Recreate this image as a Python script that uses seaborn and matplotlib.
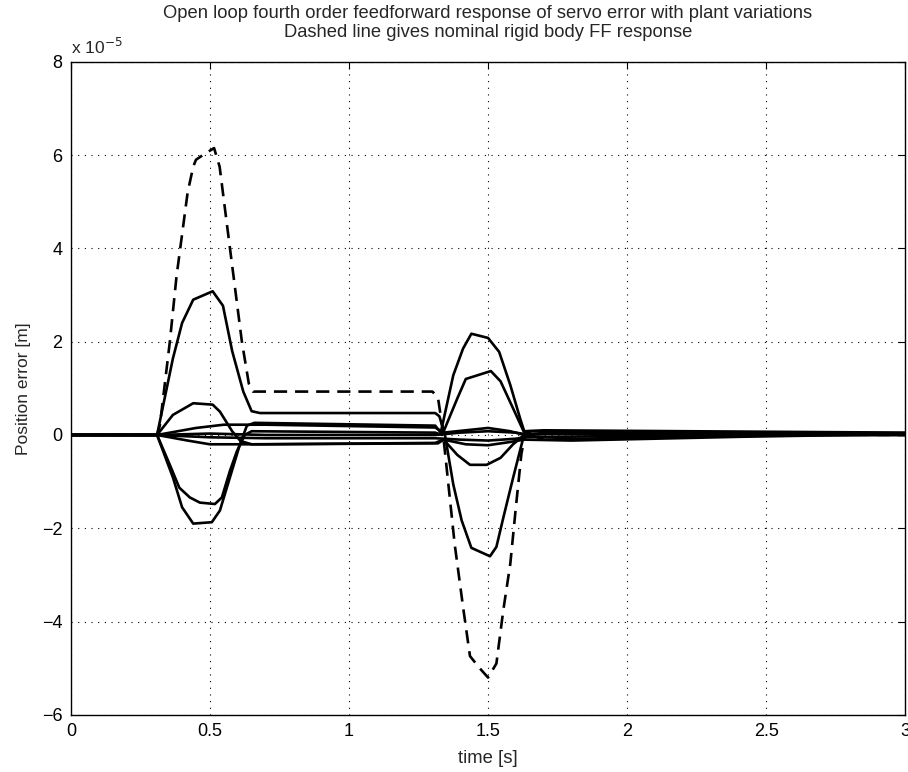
import matplotlib
matplotlib.use("Agg")
import matplotlib.pyplot as plt
import seaborn as sns

# Time / error points (error in units of 1e-5 m)
t_nominal = [0, 0.31, 0.32, 0.356, 0.38, 0.40, 0.42, 0.44, 0.45, 0.475, 0.515, 0.535, 0.57, 0.615,
             0.64, 0.655, 1.30, 1.32, 1.335, 1.35, 1.38, 1.41, 1.435, 1.47, 1.50, 1.53, 1.555, 1.58,
             1.60, 1.62, 1.635, 2.0, 3.0]
e_nominal = [0, 0, 0.2, 2.0, 3.4, 4.3, 5.2, 5.75, 5.9, 6.0, 6.15, 5.75, 4.1, 2.0,
             1.1, 0.93, 0.93, 0.8, 0.2, -0.64, -2.34, -3.68, -4.74, -5.0, -5.2, -4.9, -3.75, -2.76,
             -1.55, -0.4, 0.05, 0.03, 0.0]

t_a = [0, 0.31, 0.367, 0.40, 0.44, 0.51, 0.547, 0.58, 0.62, 0.65, 0.68, 1.31, 1.325, 1.345,
       1.375, 1.405, 1.44, 1.507, 1.53, 1.555, 1.59, 1.625, 1.65, 2.0, 3.0]
e_a = [0, 0, 1.64, 2.4, 2.9, 3.08, 2.77, 1.8, 0.93, 0.51, 0.47, 0.47, 0.4, 0.0,
       -1.06, -1.83, -2.42, -2.6, -2.4, -1.77, -0.92, -0.1, 0.08, 0.06, 0.04]

t_b = [0, 0.31, 0.367, 0.44, 0.51, 0.536, 0.58, 0.61, 0.65, 1.32, 1.34, 1.39, 1.435, 1.495,
       1.545, 1.59, 1.63, 1.7, 3.0]
e_b = [0, 0, 0.43, 0.68, 0.65, 0.5, 0.08, -0.13, -0.2, -0.18, -0.1, -0.43, -0.64, -0.64,
       -0.49, -0.2, 0.0, 0.04, 0.02]

t_c = [0, 0.31, 0.367, 0.40, 0.44, 0.507, 0.536, 0.572, 0.608, 0.633, 0.66, 1.31, 1.33, 1.375,
       1.41, 1.44, 1.50, 1.54, 1.58, 1.615, 1.63, 1.7, 3.0]
e_c = [0, 0, -0.91, -1.55, -1.9, -1.87, -1.62, -0.91, -0.2, 0.2, 0.26, 0.2, 0.05, 1.28,
       1.85, 2.17, 2.08, 1.78, 1.07, 0.36, 0.08, 0.1, 0.05]

t_d = [0, 0.31, 0.356, 0.39, 0.428, 0.464, 0.518, 0.543, 0.572, 0.597, 0.625, 0.65, 1.31, 1.335,
       1.39, 1.42, 1.51, 1.545, 1.59, 1.63, 1.7, 2.4, 3.0]
e_d = [0, 0, -0.64, -1.13, -1.34, -1.45, -1.48, -1.34, -0.77, -0.35, 0.0, 0.08, 0.05, 0.0,
       0.79, 1.2, 1.37, 1.15, 0.57, 0.05, -0.1, 0.0, 0.02]

t_e = [0, 0.31, 0.45, 0.55, 0.7, 1.31, 1.34, 1.42, 1.5, 1.58, 1.63, 1.8, 3.0]
e_e = [0, 0, 0.15, 0.22, 0.22, 0.16, 0.05, 0.1, 0.15, 0.08, 0.0, 0.05, 0.03]

t_f = [0, 0.31, 0.42, 0.5, 0.7, 1.31, 1.34, 1.42, 1.5, 1.58, 1.63, 1.8, 2.4, 3.0]
e_f = [0, 0, -0.12, -0.2, -0.2, -0.17, -0.1, -0.2, -0.22, -0.15, -0.1, -0.12, -0.04, 0.02]

t_g = [0, 0.31, 0.5, 0.7, 1.31, 1.4, 1.5, 1.6, 1.63, 3.0]
e_g = [0, 0, 0.03, 0.0, 0.0, 0.05, 0.08, 0.05, 0.02, 0.0]

t_h = [0, 0.31, 0.5, 0.7, 1.31, 1.4, 1.5, 1.6, 1.63, 2.0, 3.0]
e_h = [0, 0, -0.05, -0.07, -0.07, -0.1, -0.12, -0.08, -0.05, -0.02, 0.0]

variations = [(t_a, e_a), (t_b, e_b), (t_c, e_c), (t_d, e_d),
              (t_e, e_e), (t_f, e_f), (t_g, e_g), (t_h, e_h)]

x_ticks = [0, 0.5, 1, 1.5, 2, 2.5, 3]
x_tick_labels = ["0", "0.5", "1", "1.5", "2", "2.5", "3"]
y_ticks = [-6, -4, -2, 0, 2, 4, 6, 8]

sns.set_style("white")
plt.rcParams['font.family'] = ['Liberation Sans', 'DejaVu Sans']

fig = plt.figure(figsize=(9.08, 7.72), dpi=100)
ax = fig.add_axes([0.078, 0.074, 0.919, 0.846])

for tt, ee in variations:
    sns.lineplot(x=tt, y=ee, color="black", linewidth=1.9, estimator=None, sort=False, ax=ax)

sns.lineplot(x=t_nominal, y=e_nominal, color="black", linewidth=1.9, estimator=None,
             sort=False, ax=ax, dashes=False)
ax.lines[-1].set_dashes((5, 3))

ax.set_xlim(0, 3)
ax.set_ylim(-6, 8)
ax.set_xticks(x_ticks)
ax.set_xticklabels(x_tick_labels)
ax.set_yticks(y_ticks)
ax.grid(True, color="black", linestyle=(0, (1, 5)), linewidth=0.8)
ax.tick_params(direction="in", top=True, right=True, length=5, width=0.8,
               labelsize=13, colors="black", pad=6)
for s in ax.spines.values():
    s.set_color("black")
    s.set_linewidth(1.0)

ax.set_xlabel("time [s]", fontsize=13.3, labelpad=7)
ax.set_ylabel("Position error [m]", fontsize=12.5, labelpad=8)
ax.set_title("Open loop fourth order feedforward response of servo error with plant variations\n"
             "Dashed line gives nominal rigid body FF response", fontsize=13.2, pad=18,
             linespacing=1.1)
ax.text(0.0, 1.008, r"x 10$^{-5}$", transform=ax.transAxes, fontsize=12.5,
        ha="left", va="bottom")

fig.savefig("out.png", dpi=100)
